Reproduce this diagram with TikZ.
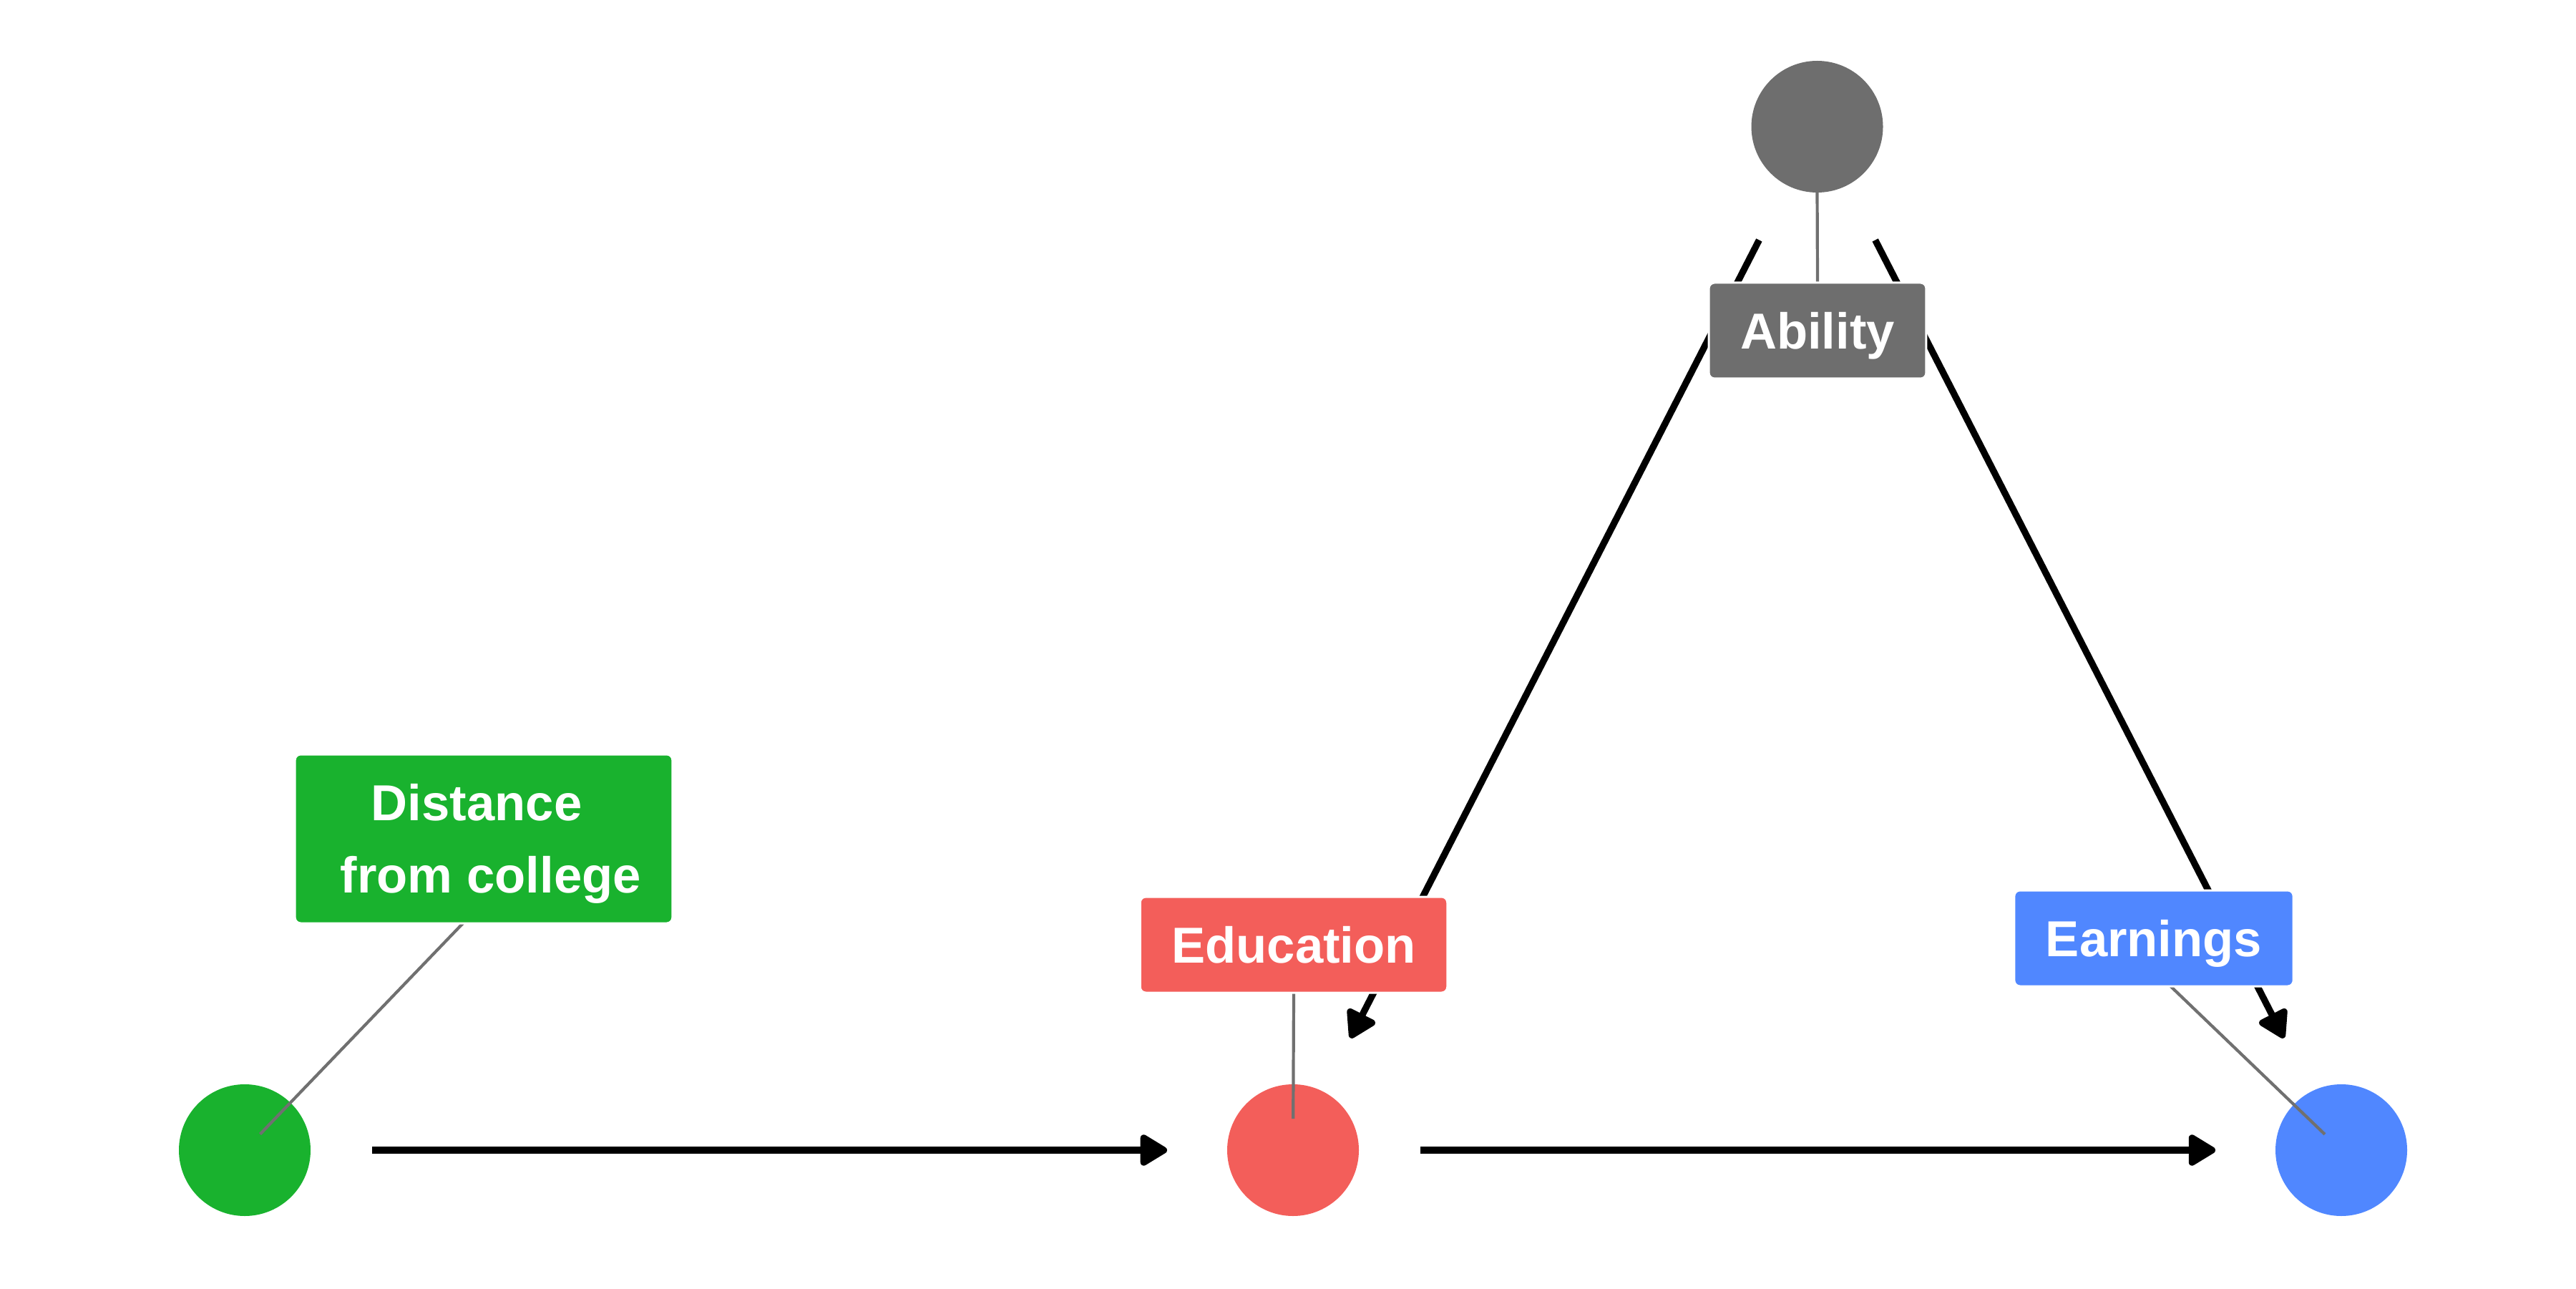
\documentclass[tikz,border=0pt]{standalone}
\usepackage{fontspec}
\setmainfont{Liberation Sans}
\usetikzlibrary{arrows.meta,calc}
\definecolor{abilc}{HTML}{6E6E6E}
\definecolor{educc}{HTML}{F35E5A}
\definecolor{earnc}{HTML}{5087FF}
\definecolor{distc}{HTML}{19B22E}
\definecolor{segc}{HTML}{707070}
\pgfdeclarelayer{front}
\pgfsetlayers{main,front}
\begin{document}
\begin{tikzpicture}[
  pt/.style={circle, minimum size=1.84cm, inner sep=0pt, outer sep=0pt, fill=#1},
  lab/.style={rectangle, rounded corners=0.08cm, fill=#1, draw=white, line width=0.03cm,
    text=white, font=\fontsize{20.1}{28.7}\selectfont\bfseries,
    inner xsep=0.44cm, inner ysep=0pt, minimum height=1.34cm, align=center, outer sep=0pt},
  oneline/.style={text height=0.6cm, text depth=0.092cm},
  edge/.style={line width=0.093cm, black, -{Triangle[length=0.42cm,width=0.48cm,round]},
    shorten <=0.86cm, shorten >=0.84cm},
  segl/.style={segc, line width=0.042cm}
]
\useasboundingbox (0,0) rectangle (36,18);
% points
\node[pt=abilc] (A) at (25.395,16.23) {};
\node[pt=distc] (D) at (3.42,1.93) {};
\node[pt=educc] (E) at (18.07,1.93) {};
\node[pt=earnc] (R) at (32.72,1.93) {};
% labels
\begin{pgfonlayer}{front}
\node[lab=abilc, oneline] (Alab) at (25.40,13.38) {Ability};
\node[lab=educc, oneline] (Elab) at (18.08,4.80) {Education};
\node[lab=earnc, oneline] (Rlab) at (30.10,4.89) {Earnings};
\node[lab=distc, minimum height=2.36cm] (Dlab) at (6.76,6.28) {\rule{0pt}{0.65cm}Distance\hspace*{0.278em}\\\hspace*{0.278em}from college};
\end{pgfonlayer}
% causal edges
\draw[edge] (D) -- (E);
\draw[edge] (E) -- (R);
\draw[edge] (A) -- (E);
\draw[edge] (A) -- (R);
% label segments
\draw[segl] (A.south) -- (Alab.north);
\draw[segl, shorten >=0.44cm] (Elab.south) -- (E.center);
\draw[segl, shorten >=0.32cm] ($(Rlab.south west)!0.56!(Rlab.south east)$) -- (R.center);
\draw[segl, shorten >=0.31cm] ($(Dlab.south west)!0.445!(Dlab.south east)$) -- (D.center);
\end{tikzpicture}
\end{document}
